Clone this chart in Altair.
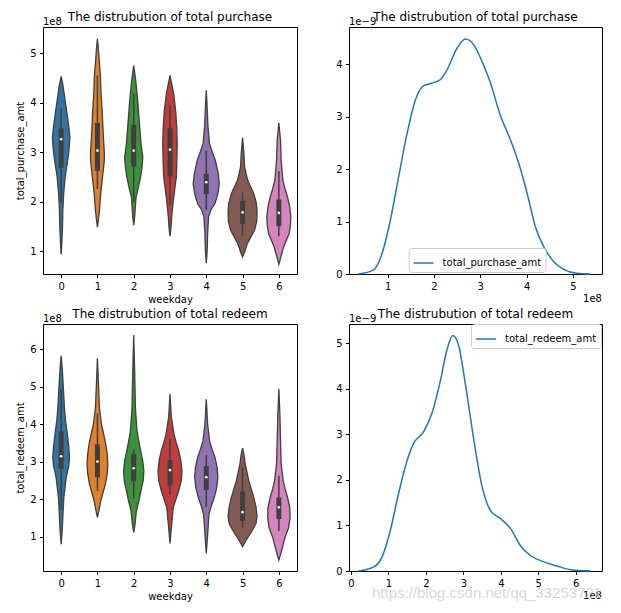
import altair as alt
import pandas as pd

# ---------------- data ----------------
weekdays = [0, 1, 2, 3, 4, 5, 6]
violin_colors = ["#3274a1", "#e1812c", "#3a923a", "#c03d3e", "#9372b2", "#845b53", "#d684bd"]

# violin outlines: values (x1e8) and half-widths (in weekday units)
purchase_violin_v = [
    [0.93, 1.15, 1.48, 1.82, 2.16, 2.50, 2.83, 3.00, 3.17, 3.30, 3.51, 3.84, 4.18, 4.35, 4.53],
    [1.48, 1.65, 1.82, 2.16, 2.50, 2.83, 3.00, 3.17, 3.51, 3.84, 4.18, 4.52, 4.85, 5.10, 5.29],
    [1.52, 1.70, 1.82, 2.09, 2.29, 2.50, 2.70, 2.90, 3.17, 3.51, 4.04, 4.45, 4.75],
    [1.30, 1.48, 1.69, 2.02, 2.50, 2.83, 3.17, 3.51, 3.84, 4.18, 4.35, 4.55],
    [0.76, 1.01, 1.35, 1.69, 1.82, 1.96, 2.16, 2.36, 2.56, 2.83, 2.97, 3.17, 3.51, 3.84, 4.25],
    [0.88, 0.98, 1.15, 1.42, 1.60, 1.79, 1.97, 2.16, 2.43, 2.70, 2.97, 3.29],
    [0.73, 0.88, 1.08, 1.35, 1.52, 1.69, 1.89, 2.09, 2.26, 2.43, 2.83, 3.24, 3.59],
]
purchase_violin_hw = [
    [0.0, 0.018, 0.037, 0.046, 0.07, 0.11, 0.18, 0.21, 0.23, 0.24, 0.21, 0.15, 0.083, 0.05, 0.0],
    [0.0, 0.03, 0.055, 0.09, 0.14, 0.19, 0.19, 0.175, 0.15, 0.13, 0.10, 0.085, 0.05, 0.025, 0.0],
    [0.0, 0.028, 0.037, 0.064, 0.13, 0.19, 0.23, 0.25, 0.20, 0.165, 0.11, 0.055, 0.0],
    [0.0, 0.028, 0.046, 0.09, 0.175, 0.19, 0.20, 0.185, 0.155, 0.10, 0.055, 0.0],
    [0.0, 0.025, 0.037, 0.064, 0.12, 0.24, 0.32, 0.36, 0.33, 0.25, 0.18, 0.09, 0.046, 0.028, 0.0],
    [0.0, 0.055, 0.13, 0.33, 0.39, 0.40, 0.38, 0.31, 0.14, 0.055, 0.037, 0.0],
    [0.0, 0.055, 0.13, 0.28, 0.32, 0.33, 0.30, 0.24, 0.17, 0.11, 0.064, 0.046, 0.0],
]
purchase_q1 = [2.68, 2.62, 2.71, 2.51, 2.15, 1.55, 1.50]
purchase_q3 = [3.48, 3.59, 3.55, 3.48, 2.56, 2.01, 2.04]
purchase_median = [3.26, 3.03, 3.03, 3.05, 2.39, 1.78, 1.77]
purchase_whisker_lo = [1.97, 2.25, 1.99, 1.92, 1.83, 1.30, 1.30]
purchase_whisker_hi = [3.90, 4.55, 4.19, 3.94, 3.03, 2.18, 2.62]

redeem_violin_v = [
    [0.81, 1.16, 1.52, 2.05, 2.59, 2.90, 3.12, 3.40, 3.74, 4.10, 4.45, 5.07, 5.52, 5.83],
    [1.52, 1.70, 1.96, 2.20, 2.41, 2.70, 2.94, 3.20, 3.47, 3.75, 4.01, 4.45, 5.07, 5.76],
    [1.12, 1.34, 1.70, 1.95, 2.23, 2.50, 2.76, 3.02, 3.30, 3.55, 3.83, 4.45, 5.34, 6.38],
    [0.83, 1.34, 1.79, 2.00, 2.23, 2.50, 2.76, 3.03, 3.30, 3.52, 3.74, 4.19, 4.81],
    [0.56, 1.07, 1.61, 1.83, 2.05, 2.32, 2.59, 2.85, 3.12, 3.34, 3.56, 4.01, 4.67],
    [0.74, 0.90, 1.16, 1.36, 1.56, 1.80, 2.05, 2.28, 2.50, 2.94, 3.21, 3.37],
    [0.38, 0.63, 0.99, 1.25, 1.52, 1.78, 2.05, 2.28, 2.50, 2.94, 3.56, 4.27, 4.94],
]
redeem_violin_hw = [
    [0.0, 0.028, 0.046, 0.074, 0.14, 0.21, 0.23, 0.21, 0.17, 0.12, 0.09, 0.055, 0.028, 0.0],
    [0.0, 0.04, 0.09, 0.16, 0.22, 0.27, 0.285, 0.27, 0.23, 0.17, 0.11, 0.055, 0.028, 0.0],
    [0.0, 0.037, 0.074, 0.14, 0.20, 0.26, 0.28, 0.25, 0.19, 0.14, 0.09, 0.046, 0.028, 0.0],
    [0.0, 0.046, 0.09, 0.16, 0.24, 0.31, 0.33, 0.30, 0.24, 0.17, 0.11, 0.037, 0.0],
    [0.0, 0.037, 0.074, 0.14, 0.22, 0.29, 0.32, 0.30, 0.24, 0.16, 0.09, 0.037, 0.0],
    [0.0, 0.09, 0.26, 0.37, 0.40, 0.37, 0.31, 0.24, 0.17, 0.074, 0.037, 0.0],
    [0.0, 0.074, 0.17, 0.27, 0.31, 0.30, 0.24, 0.17, 0.12, 0.064, 0.046, 0.028, 0.0],
]
redeem_q1 = [2.81, 2.59, 2.48, 2.37, 2.25, 1.43, 1.48]
redeem_q3 = [3.81, 3.47, 3.21, 3.05, 2.89, 2.21, 2.05]
redeem_median = [3.15, 3.01, 2.83, 2.78, 2.59, 1.66, 1.79]
redeem_whisker_lo = [1.72, 2.23, 2.03, 2.12, 1.80, 1.25, 1.16]
redeem_whisker_hi = [4.95, 4.29, 3.34, 3.61, 3.18, 2.87, 2.63]

# KDE curves: x in 1e8, density in 1e-9
purchase_kde_x = [0.374, 0.70, 0.88, 1.06, 1.24, 1.42, 1.60, 1.78, 1.99, 2.14, 2.28, 2.50, 2.68,
                  2.86, 3.04, 3.22, 3.43, 3.65, 3.83, 4.01, 4.19, 4.37, 4.58, 4.80, 5.09, 5.37]
purchase_kde_y = [0.0, 0.08, 0.39, 1.03, 1.86, 2.68, 3.32, 3.59, 3.65, 3.71, 3.89, 4.31, 4.48,
                  4.37, 4.05, 3.64, 3.03, 2.56, 2.11, 1.54, 0.90, 0.52, 0.24, 0.09, 0.013, 0.0]
redeem_kde_x = [0.205, 0.61, 0.83, 1.05, 1.27, 1.50, 1.67, 1.94, 2.16, 2.39, 2.56, 2.72, 2.88,
                3.05, 3.28, 3.50, 3.72, 3.99, 4.26, 4.52, 4.79, 5.15, 5.50, 5.86, 6.40]
redeem_kde_y = [0.0, 0.09, 0.31, 0.89, 1.70, 2.43, 2.80, 3.06, 3.46, 4.19, 4.85, 5.17, 4.93,
                4.12, 2.87, 1.85, 1.33, 1.15, 0.93, 0.56, 0.34, 0.20, 0.11, 0.03, 0.0]

titles = ["The distrubution of total purchase", "The distrubution of total purchase",
          "The distrubution of total redeem", "The distrubution of total redeem"]
violin_ytitles = ["total_purchase_amt", "total_redeem_amt"]
kde_series = ["total_purchase_amt", "total_redeem_amt"]
watermark = ["https://blog.csdn.net/qq_33253721"]

FONT = "DejaVu Sans"
EDGE = "#3f3f3f"


def label_text(label, x, y, align, size=10):
    return alt.Chart(pd.DataFrame({"t": [label]})).mark_text(
        align=align, baseline="alphabetic", font=FONT, fontSize=size, color="black"
    ).encode(text="t:N", x=alt.value(x), y=alt.value(y))


def violin_panel(v_lists, hw_lists, q1, q3, med, wlo, whi, ydomain, yticks, ytitle, title, w, h):
    rows = []
    for d, vs, hws in zip(weekdays, v_lists, hw_lists):
        for v, hw in zip(vs, hws):
            rows.append({"weekday": d, "v": v, "hw": hw})
    shape_df = pd.DataFrame(rows)
    stats_df = pd.DataFrame({"weekday": weekdays, "q1": q1, "q3": q3, "med": med,
                             "wlo": wlo, "whi": whi})
    xscale = alt.Scale(domain=[-0.5, 6.5], nice=False, zero=False)
    xaxis = alt.Axis(values=weekdays, format="d", title="weekday")
    yscale = alt.Scale(domain=ydomain, nice=False, zero=False)
    yaxis = alt.Axis(values=yticks, format="d", title=ytitle)

    area = alt.Chart(shape_df).transform_calculate(
        lo="datum.weekday - datum.hw", hi="datum.weekday + datum.hw"
    ).mark_area(orient="horizontal", stroke=EDGE, strokeWidth=1.3, opacity=1).encode(
        y=alt.Y("v:Q", scale=yscale, axis=yaxis),
        x=alt.X("lo:Q", scale=xscale, axis=xaxis),
        x2="hi:Q",
        color=alt.Color("weekday:N", scale=alt.Scale(domain=weekdays, range=violin_colors), legend=None),
        detail="weekday:N",
    )
    whisk = alt.Chart(stats_df).mark_rule(color=EDGE, strokeWidth=1.5).encode(
        x=alt.X("weekday:Q", scale=xscale, axis=xaxis),
        y=alt.Y("wlo:Q", scale=yscale, axis=yaxis), y2="whi:Q")
    box = alt.Chart(stats_df).mark_rule(color=EDGE, strokeWidth=5).encode(
        x=alt.X("weekday:Q", scale=xscale, axis=xaxis),
        y=alt.Y("q1:Q", scale=yscale, axis=yaxis), y2="q3:Q")
    dot = alt.Chart(stats_df).mark_point(filled=True, color="white", size=7, opacity=1).encode(
        x=alt.X("weekday:Q", scale=xscale, axis=xaxis),
        y=alt.Y("med:Q", scale=yscale, axis=yaxis))
    return alt.layer(area, whisk, box, dot,
                     label_text("1e8", 0, -2.5, "left"),
                     label_text(title, w / 2, -6, "center", 12)).properties(width=w, height=h)


def kde_panel(xs, ys, name, xdomain, xticks, ydomain, yticks, title, legend_xy, w, h, extra=None):
    df = pd.DataFrame({"x": xs, "y": ys, "series": name})
    line = alt.Chart(df).mark_line(strokeWidth=1.5, interpolate="monotone").encode(
        x=alt.X("x:Q", scale=alt.Scale(domain=xdomain, nice=False, zero=False),
                axis=alt.Axis(values=xticks, format="d", title=None)),
        y=alt.Y("y:Q", scale=alt.Scale(domain=ydomain, nice=False, zero=False),
                axis=alt.Axis(values=yticks, format="d", title=None)),
        color=alt.Color("series:N", scale=alt.Scale(domain=[name], range=["#1f77b4"]),
                        legend=alt.Legend(orient="none", legendX=legend_xy[0], legendY=legend_xy[1],
                                          title=None, symbolType="stroke", symbolSize=400,
                                          symbolStrokeWidth=1.5, labelFont=FONT, labelFontSize=10,
                                          labelColor="black", labelOffset=8, padding=4,
                                          strokeColor="#cccccc", fillColor="white",
                                          cornerRadius=3)),
    )
    layers = [line,
              label_text(title, w / 2, -6, "center", 12),
              label_text("1e\u22129", 0, -2.5, "left"),
              label_text("1e8", w, h + 28, "right")]
    if extra is not None:
        layers.append(extra)
    return alt.layer(*layers).properties(width=w, height=h)


tl = violin_panel(purchase_violin_v, purchase_violin_hw, purchase_q1, purchase_q3, purchase_median,
                  purchase_whisker_lo, purchase_whisker_hi, [0.535, 5.53], [1, 2, 3, 4, 5],
                  violin_ytitles[0], titles[0], 254, 247)
bl = violin_panel(redeem_violin_v, redeem_violin_hw, redeem_q1, redeem_q3, redeem_median,
                  redeem_whisker_lo, redeem_whisker_hi, [0.093, 6.675], [1, 2, 3, 4, 5, 6],
                  violin_ytitles[1], titles[2], 254, 247)
tr = kde_panel(purchase_kde_x, purchase_kde_y, kde_series[0], [0.167, 5.626], [1, 2, 3, 4, 5],
               [0, 4.71], [0, 1, 2, 3, 4], titles[1], (59.6, 221), 253, 247)
wm = alt.Chart(pd.DataFrame({"t": watermark})).mark_text(
    align="left", baseline="alphabetic", font="Liberation Sans", fontSize=15,
    color="#d4d4d4", opacity=0.9).encode(text="t:N", x=alt.value(23), y=alt.value(274))
br = kde_panel(redeem_kde_x, redeem_kde_y, kde_series[1], [-0.053, 6.70], [0, 1, 2, 3, 4, 5, 6],
               [0, 5.42], [0, 1, 2, 3, 4, 5], titles[3], (122, 0), 253, 247, extra=wm)

chart = alt.concat(
    tl, tr, bl, br, columns=2, spacing={"row": 50, "column": 52}, bounds="flush"
).resolve_scale(color="independent").resolve_legend(color="independent").properties(
    padding={"left": 7, "top": 2, "right": 5, "bottom": 5}
).configure(background="white").configure_view(
    stroke="black", strokeWidth=1
).configure_axis(
    grid=False, domain=False, tickColor="black", tickSize=3.5, tickWidth=1,
    labelFont=FONT, labelFontSize=10, labelColor="black", labelPadding=3.5,
    titleFont=FONT, titleFontSize=10, titleFontWeight="normal", titleColor="black"
).configure_axisX(titlePadding=3).configure_axisY(titlePadding=4)

chart.save("out.html", embed_options={"renderer": "svg", "actions": False})
